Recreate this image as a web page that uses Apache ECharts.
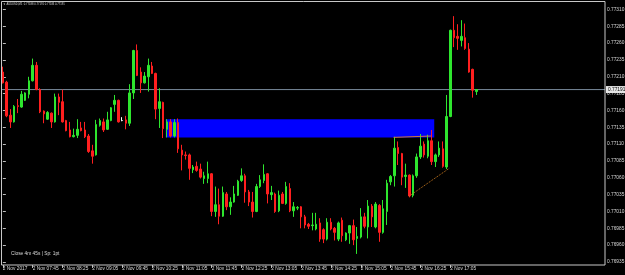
<!DOCTYPE html>
<html>
<head>
<meta charset="utf-8">
<style>
  html, body { margin: 0; padding: 0; background: #000; }
  #chart { width: 625px; height: 275px; }
</style>
<script src="https://cdn.jsdelivr.net/npm/echarts@6/dist/echarts.min.js"></script>
</head>
<body>
<div id="chart"></div>
<script>
// AUDUSD M5, 2 Nov 2017, 07:05 .. 17:40
const openP = [
  0.77217, 0.77202, 0.77153, 0.77143, 0.77167, 0.77165, 0.77175, 0.77184, 0.77204, 0.77227,
  0.77191, 0.77159, 0.77147, 0.77156, 0.77143, 0.77180, 0.77173, 0.77145, 0.77131, 0.77121,
  0.77123, 0.77134, 0.77131, 0.77122, 0.77100, 0.77094, 0.77138, 0.77143, 0.77132, 0.77145,
  0.77169, 0.77175, 0.77145, 0.77146, 0.77141, 0.77186, 0.77249, 0.77217, 0.77201, 0.77210,
  0.77226, 0.77215, 0.77163, 0.77172, 0.77132, 0.77143, 0.77122, 0.77142, 0.77101, 0.77094,
  0.77094, 0.77072, 0.77077, 0.77073, 0.77059, 0.77059, 0.77066, 0.77010, 0.77020, 0.77003,
  0.77036, 0.77017, 0.77024, 0.77034, 0.77056, 0.77063, 0.77039, 0.77024, 0.77010, 0.77047,
  0.77056, 0.77066, 0.77035, 0.77036, 0.77011, 0.77036, 0.77022, 0.77044, 0.77011, 0.77015,
  0.77017, 0.77002, 0.76991, 0.76989, 0.76984, 0.76993, 0.76983, 0.76969, 0.76994, 0.76985,
  0.76969, 0.76997, 0.76968, 0.76978, 0.76989, 0.76970, 0.76972, 0.77002, 0.76987, 0.77018,
  0.76987, 0.77019, 0.76979, 0.77010, 0.77054, 0.77063, 0.77105, 0.77096, 0.77062, 0.77064,
  0.77034, 0.77063, 0.77091, 0.77110, 0.77092, 0.77115, 0.77084, 0.77094, 0.77103, 0.77076,
  0.77151, 0.77279, 0.77270, 0.77264, 0.77268, 0.77251, 0.77221, 0.77188
];
const highP = [
  0.77225, 0.77204, 0.77162, 0.77168, 0.77177, 0.77189, 0.77187, 0.77210, 0.77237, 0.77232,
  0.77193, 0.77160, 0.77159, 0.77157, 0.77185, 0.77185, 0.77191, 0.77146, 0.77143, 0.77133,
  0.77147, 0.77143, 0.77143, 0.77125, 0.77109, 0.77146, 0.77148, 0.77148, 0.77158, 0.77165,
  0.77183, 0.77176, 0.77150, 0.77152, 0.77199, 0.77250, 0.77258, 0.77224, 0.77217, 0.77237,
  0.77232, 0.77216, 0.77193, 0.77173, 0.77147, 0.77147, 0.77147, 0.77148, 0.77109, 0.77099,
  0.77096, 0.77079, 0.77084, 0.77081, 0.77069, 0.77084, 0.77067, 0.77047, 0.77044, 0.77047,
  0.77039, 0.77031, 0.77048, 0.77057, 0.77074, 0.77066, 0.77042, 0.77039, 0.77051, 0.77064,
  0.77080, 0.77067, 0.77048, 0.77038, 0.77041, 0.77039, 0.77054, 0.77052, 0.77024, 0.77018,
  0.77018, 0.77005, 0.76993, 0.77008, 0.77008, 0.77000, 0.76985, 0.77000, 0.77000, 0.76987,
  0.76995, 0.77001, 0.76979, 0.76990, 0.76998, 0.76987, 0.77015, 0.77008, 0.77027, 0.77021,
  0.77024, 0.77021, 0.77027, 0.77057, 0.77064, 0.77121, 0.77114, 0.77097, 0.77081, 0.77065,
  0.77065, 0.77096, 0.77125, 0.77114, 0.77124, 0.77131, 0.77096, 0.77114, 0.77114, 0.77183,
  0.77280, 0.77300, 0.77288, 0.77294, 0.77289, 0.77260, 0.77222, 0.77191
];
const lowP = [
  0.77200, 0.77150, 0.77134, 0.77142, 0.77156, 0.77164, 0.77174, 0.77178, 0.77203, 0.77190,
  0.77156, 0.77141, 0.77146, 0.77134, 0.77142, 0.77153, 0.77142, 0.77129, 0.77120, 0.77120,
  0.77119, 0.77129, 0.77119, 0.77097, 0.77081, 0.77093, 0.77136, 0.77128, 0.77131, 0.77144,
  0.77158, 0.77142, 0.77144, 0.77132, 0.77137, 0.77177, 0.77211, 0.77186, 0.77200, 0.77188,
  0.77214, 0.77147, 0.77134, 0.77119, 0.77120, 0.77120, 0.77120, 0.77097, 0.77071, 0.77087,
  0.77057, 0.77067, 0.77069, 0.77059, 0.77051, 0.77052, 0.77003, 0.77002, 0.76991, 0.77002,
  0.77012, 0.77005, 0.77023, 0.77033, 0.77054, 0.77023, 0.77018, 0.77001, 0.77009, 0.77045,
  0.77052, 0.77022, 0.77027, 0.77008, 0.77009, 0.77021, 0.77020, 0.77009, 0.77002, 0.77012,
  0.76985, 0.76985, 0.76984, 0.76982, 0.76982, 0.76965, 0.76963, 0.76967, 0.76982, 0.76967,
  0.76966, 0.76965, 0.76966, 0.76962, 0.76960, 0.76947, 0.76970, 0.76985, 0.76970, 0.76987,
  0.76985, 0.76965, 0.76977, 0.76990, 0.77049, 0.77047, 0.77079, 0.77049, 0.77045, 0.77031,
  0.77031, 0.77060, 0.77088, 0.77090, 0.77089, 0.77079, 0.77076, 0.77091, 0.77075, 0.77073,
  0.77150, 0.77254, 0.77250, 0.77255, 0.77250, 0.77216, 0.77179, 0.77183
];
const closeP = [
  0.77201, 0.77152, 0.77143, 0.77166, 0.77166, 0.77184, 0.77186, 0.77204, 0.77227, 0.77191,
  0.77158, 0.77155, 0.77157, 0.77143, 0.77180, 0.77172, 0.77143, 0.77130, 0.77121, 0.77123,
  0.77132, 0.77130, 0.77121, 0.77099, 0.77092, 0.77139, 0.77145, 0.77131, 0.77146, 0.77164,
  0.77175, 0.77143, 0.77145, 0.77141, 0.77186, 0.77249, 0.77212, 0.77201, 0.77211, 0.77227,
  0.77215, 0.77162, 0.77173, 0.77133, 0.77143, 0.77122, 0.77142, 0.77103, 0.77094, 0.77093,
  0.77074, 0.77076, 0.77071, 0.77061, 0.77063, 0.77066, 0.77010, 0.77020, 0.77003, 0.77038,
  0.77017, 0.77024, 0.77036, 0.77055, 0.77063, 0.77039, 0.77024, 0.77010, 0.77047, 0.77057,
  0.77065, 0.77036, 0.77038, 0.77010, 0.77034, 0.77022, 0.77047, 0.77011, 0.77017, 0.77016,
  0.77002, 0.76990, 0.76988, 0.76990, 0.76991, 0.76969, 0.76969, 0.76994, 0.76984, 0.76979,
  0.76993, 0.76974, 0.76978, 0.76989, 0.76968, 0.76973, 0.77002, 0.76988, 0.77018, 0.77002,
  0.77021, 0.76979, 0.77014, 0.77052, 0.77062, 0.77104, 0.77096, 0.77061, 0.77064, 0.77033,
  0.77063, 0.77091, 0.77107, 0.77094, 0.77115, 0.77084, 0.77094, 0.77104, 0.77077, 0.77151,
  0.77279, 0.77268, 0.77267, 0.77270, 0.77252, 0.77217, 0.77190, 0.77191
];

// bottom time scale, one label every 8 bars (40 min)
const timeLabels = [
  '2 Nov 2017', '2 Nov 07:45', '2 Nov 08:25', '2 Nov 09:05', '2 Nov 09:45', '2 Nov 10:25',
  '2 Nov 11:05', '2 Nov 11:45', '2 Nov 12:25', '2 Nov 13:05', '2 Nov 13:45', '2 Nov 14:25',
  '2 Nov 15:05', '2 Nov 15:45', '2 Nov 16:25', '2 Nov 17:05'
];
const labelStep = 8;
const emptySlots = 34;          // chart shift on the right

const lastPrice = 0.77191;
const headerText = '\u25BC AUDUSD,M5  0.77188 0.77191 0.77183 0.77191';
const footerText = 'Close 4m 45s | Sp: 1pt';

// blue rectangle zone (bar index / price)
const zoneFrom = 43.7, zoneTo = 115.7;
const zoneTop = 0.77147, zoneBottom = 0.77120;
// orange lines (bar index, price)
const topLine = [[104.8, 0.77120], [114.8, 0.77122]];
const supportLine = [[109.0, 0.77033], [119.7, 0.77074]];

const barCount = openP.length;
const slots = barCount + emptySlots;
const cats = [];
for (let i = 0; i < slots; i++) {
  const m = 7 * 60 + 5 + 5 * i;
  const hh = String(Math.floor(m / 60)).padStart(2, '0');
  const mm = String(m % 60).padStart(2, '0');
  cats.push(hh + ':' + mm);
}
const candles = openP.map((o, i) => [o, closeP[i], lowP[i], highP[i]]);

const showTick = (i) => i % labelStep === 0 && i < barCount;
const up = '#2ee62e';
const down = '#ff1f1f';
const txt = '#d8d8d8';
const font = 'Liberation Sans';

const chart = echarts.init(document.getElementById('chart'));
chart.setOption({
  animation: false,
  backgroundColor: '#000',
  textStyle: { fontFamily: font },
  grid: { left: 1, right: 20, top: 2, bottom: 13, containLabel: false, outerBoundsMode: 'none' },
  xAxis: [{
    type: 'category',
    data: cats,
    boundaryGap: true,
    offset: 3,
    axisLine: { show: false },
    axisTick: { show: true, alignWithLabel: true, interval: showTick, length: 3, lineStyle: { color: '#bbb' } },
    axisLabel: {
      interval: showTick,
      formatter: (v, i) => timeLabels[Math.floor(i / labelStep)] || '',
      color: txt, fontSize: 4.8, fontFamily: font, align: 'left', margin: 1
    },
    splitLine: { show: false }
  }, {
    type: 'value', min: -0.5, max: slots - 0.5, show: false
  }],
  yAxis: {
    type: 'value',
    position: 'right',
    min: 0.76935,
    max: 0.77321,
    interval: 0.00025,
    axisLine: { show: false },
    splitLine: { show: false },
    axisTick: { show: true, length: 3, lineStyle: { color: '#bbb' } },
    axisLabel: {
      color: txt, fontSize: 4.8, fontFamily: font, margin: 2, showMaxLabel: false,
      formatter: (v) => v.toFixed(5)
    }
  },
  graphic: [
    { type: 'rect', z: 100, silent: true,
      shape: { x: 1.5, y: 1.5, width: 603.5, height: 263.5 },
      style: { fill: 'none', stroke: '#c8c8c8', lineWidth: 1 } },
    { type: 'text', left: 3, top: 3, z: 100, silent: true,
      style: { text: headerText, fill: txt, fontSize: 2.7, fontFamily: font } },
    { type: 'text', left: 11, top: 251, z: 100, silent: true,
      style: { text: footerText, fill: txt, fontSize: 4.8, fontFamily: font } }
  ],
  series: [
    {
      type: 'custom',
      xAxisIndex: 1,
      z: 1,
      silent: true,
      data: [[zoneFrom, zoneTop, zoneTo, zoneBottom]],
      renderItem: (params, api) => {
        const a = api.coord([api.value(0), api.value(1)]);
        const b = api.coord([api.value(2), api.value(3)]);
        return {
          type: 'rect',
          shape: { x: a[0], y: a[1], width: b[0] - a[0], height: b[1] - a[1] },
          style: { fill: '#0000ff' }
        };
      }
    },
    {
      // bid line with price tag on the scale
      type: 'line',
      xAxisIndex: 1,
      z: 2,
      silent: true,
      symbol: 'none',
      data: [[-0.5, lastPrice], [slots - 0.5, lastPrice]],
      lineStyle: { color: '#778899', width: 1 },
      endLabel: {
        show: true, distance: 1,
        formatter: lastPrice.toFixed(5),
        color: '#000', backgroundColor: '#e6e6e6',
        fontSize: 4.8, fontFamily: font, padding: [1, 2]
      }
    },
    {
      type: 'candlestick',
      xAxisIndex: 0,
      z: 3,
      barWidth: 2,
      data: candles,
      itemStyle: {
        color: up, color0: down, borderColor: up, borderColor0: down,
        borderColorDoji: '#ffffff', borderWidth: 1
      }
    },
    {
      type: 'line', xAxisIndex: 1, z: 4, silent: true,
      data: topLine, symbol: 'none',
      lineStyle: { color: '#d0783a', width: 1 }
    },
    {
      type: 'line', xAxisIndex: 1, z: 4, silent: true,
      data: supportLine, symbol: 'none',
      lineStyle: { color: '#c8781e', width: 1, type: 'dotted' }
    }
  ]
});
</script>
</body>
</html>
